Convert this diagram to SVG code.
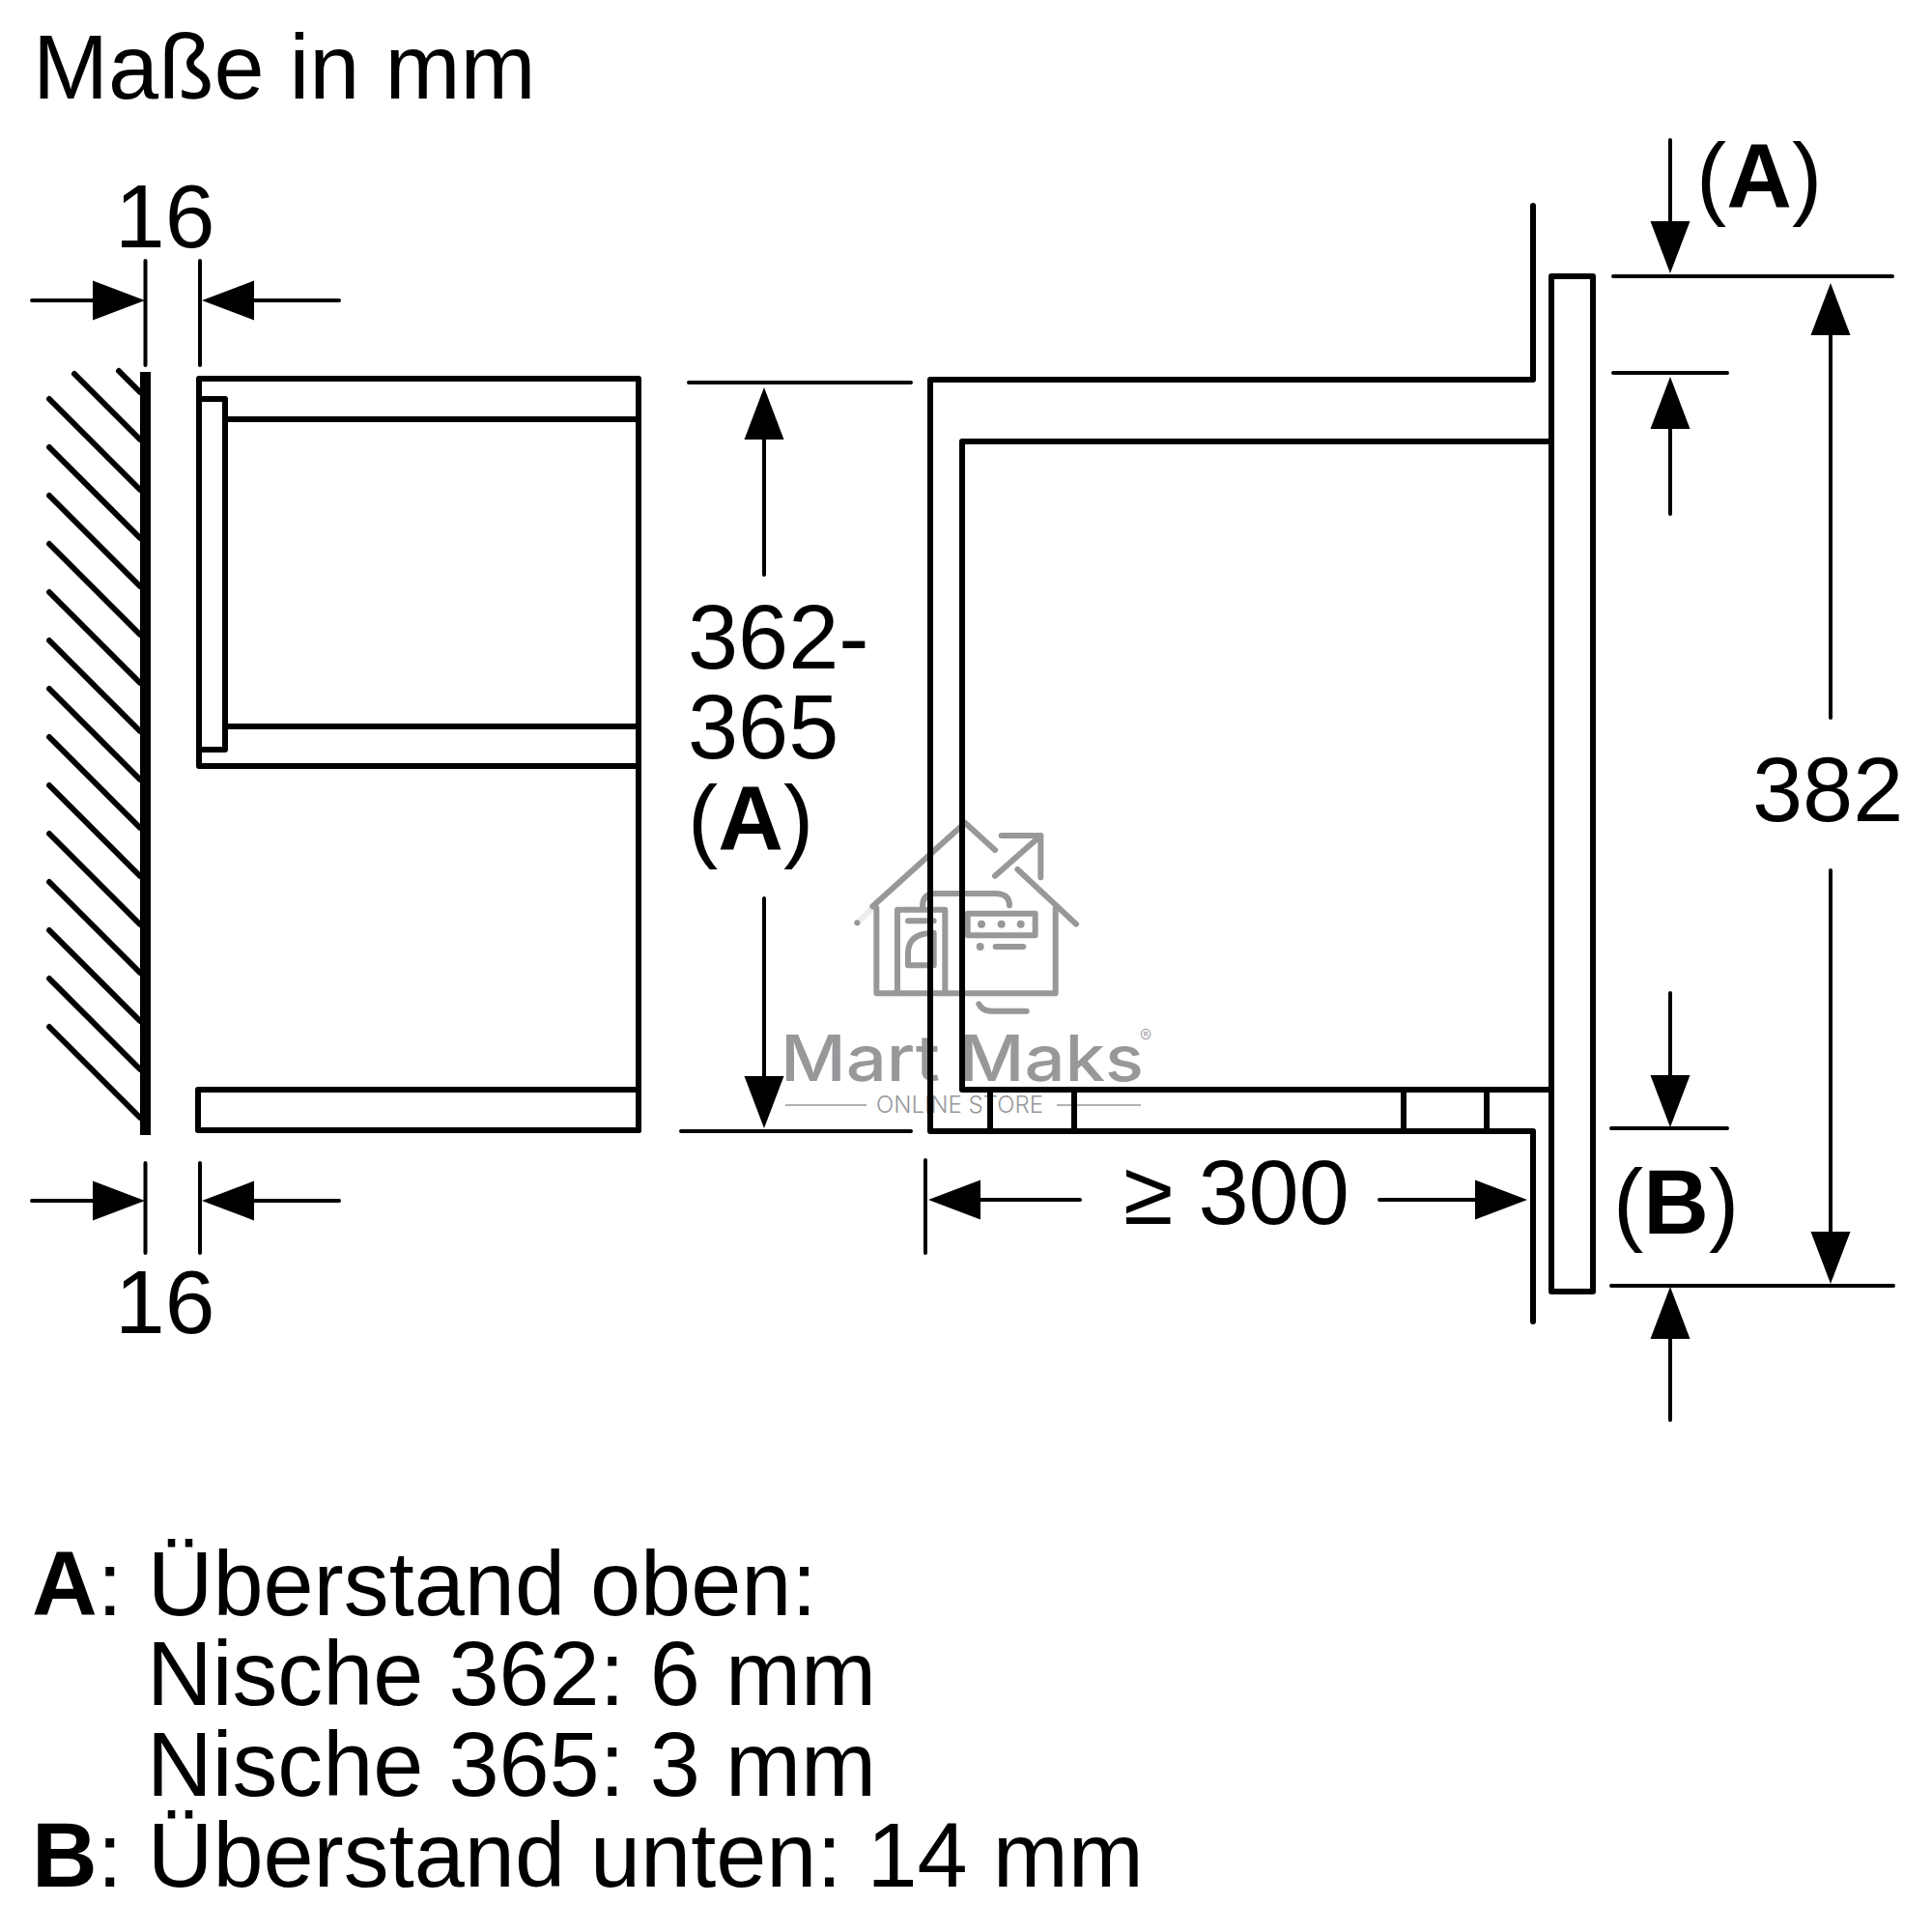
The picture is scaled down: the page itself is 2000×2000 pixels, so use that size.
<svg xmlns="http://www.w3.org/2000/svg" width="2000" height="2000" viewBox="0 0 2000 2000">
<style>
text{font-family:"Liberation Sans",Arial,sans-serif;fill:#000}
.t{font-size:93.7px}
.n{font-size:93px}
.b{font-weight:700}
.l{fill:none;stroke:#000;stroke-width:6;stroke-linecap:round;stroke-linejoin:round}
.d{fill:none;stroke:#000;stroke-width:4;stroke-linecap:round}
.h{fill:#000;stroke:none}
.g{fill:none;stroke:#98989b;stroke-width:18;stroke-linecap:round;stroke-linejoin:round}
.gt{fill:#98989b;font-family:Inter,"Liberation Sans",sans-serif}
</style>
<defs>
<polygon id="ah" class="h" points="0,0 -54,-20.5 -54,20.5"/>
</defs>
<rect width="2000" height="2000" fill="#fff"/>

<g id="logo">
<g transform="translate(800,800) scale(0.33333)">
<path class="g" style="stroke:#eeeeef" d="M262 466L310 420"/>
<path class="g" d="M262 466h.1"/>
<path class="g" d="M310 415L597 155L690 240M760 300L942 470"/>
<path class="g" d="M322 420V685H878V420"/>
<path class="g" d="M387 685V425H535V685"/>
<path class="g" d="M420 460H500M500 497V598H420V560Q420 497 500 497Z"/>
<path class="g" d="M465 415Q465 375 505 375H690Q735 375 735 412"/>
<path class="g" d="M605 437H815V505H605Z"/>
<path class="g" style="stroke-width:24" d="M648 470h.1M710 470h.1M770 470h.1M644 540h.1"/>
<path class="g" d="M692 540H778M640 718Q650 740 680 740H788"/>
<path class="g" d="M690 320L832 195M710 195H832V325"/>
</g>
<text class="gt" x="808" y="1119" font-size="66" font-weight="500" textLength="376" lengthAdjust="spacingAndGlyphs">Mart Maks</text>
<text class="gt" x="1180" y="1079" font-size="18" font-weight="300">®</text>
<text class="gt" x="907" y="1152" font-size="24" font-weight="300" textLength="173" lengthAdjust="spacingAndGlyphs">ONLINE STORE</text>
<path d="M813 1144H897M1094 1144H1181" fill="none" stroke="#98989b" stroke-width="1.6"/>
</g>

<g id="wall">
<rect x="145" y="385" width="11" height="790" fill="#000"/>
<path class="l" d="M123 384L145 406M77 387L145 455M51 413L145 507M51 463L145 557M51 513L145 607M51 563L145 657M51 613L145 707M51 663L145 757M51 713L145 807M51 763L145 857M51 813L145 907M51 863L145 957M51 913L145 1007M51 963L145 1057M51 1013L145 1107M51 1063L145 1157"/>
</g>

<g id="front-view">
<path class="l" d="M206 793V392H661V1170M233 434H661M233 752H661M206 793H661"/>
<rect class="l" x="206" y="413" width="27" height="363"/>
<path class="l" d="M205 1128H661M205 1128V1170H661"/>
</g>

<g id="side-view">
<path class="l" d="M1587 213V393H963V1171H1587V1368"/>
<path class="l" d="M1605 457H996V1128H1605"/>
<path class="l" d="M1025 1128V1171M1112 1128V1171M1453 1128V1171M1539 1128V1171"/>
<rect class="l" x="1606" y="286" width="43" height="1051"/>
</g>

<g id="dimensions">
<path class="d" d="M150.500 270V378M207 270V378M33 311H96M262 311H351"/>
<path class="d" d="M150.500 1204V1297M207 1204V1297M33 1243H96M262 1243H351"/>
<use href="#ah" transform="translate(150,311)"/>
<use href="#ah" transform="translate(209,311) rotate(180)"/>
<use href="#ah" transform="translate(150,1243)"/>
<use href="#ah" transform="translate(209,1243) rotate(180)"/>

<path class="d" d="M713 396H943M705 1171H943M791 455V595M791 930V1115"/>
<use href="#ah" transform="translate(791,401) rotate(-90)"/>
<use href="#ah" transform="translate(791,1168) rotate(90)"/>

<path class="d" d="M958 1201V1297M1013 1242H1118M1428 1242H1527"/>
<use href="#ah" transform="translate(961,1242) rotate(180)"/>
<use href="#ah" transform="translate(1581,1242)"/>

<path class="d" d="M1670 286H1959M1670 386H1788M1668 1168H1788M1668 1331H1960"/>
<path class="d" d="M1729 145V229M1729 444V532M1729 1028V1113M1729 1383V1470"/>
<use href="#ah" transform="translate(1729,283) rotate(90)"/>
<use href="#ah" transform="translate(1729,390) rotate(-90)"/>
<use href="#ah" transform="translate(1729,1167) rotate(90)"/>
<use href="#ah" transform="translate(1729,1332) rotate(-90)"/>

<path class="d" d="M1895 347V743M1895 901V1277"/>
<use href="#ah" transform="translate(1895,293) rotate(-90)"/>
<use href="#ah" transform="translate(1895,1329) rotate(90)"/>
</g>

<g id="labels">
<text class="t" x="34" y="102">Maße in mm</text>
<text class="n" x="119" y="256">16</text>
<text class="n" x="119" y="1380">16</text>
<text class="t" x="712" y="692">362-</text>
<text class="t" x="712" y="785">365</text>
<text class="t" x="712" y="880">(<tspan class="b">A</tspan>)</text>
<text class="t" x="1163" y="1267">≥ 300</text>
<text class="t" x="1814" y="850">382</text>
<text class="t" x="1756" y="215">(<tspan class="b">A</tspan>)</text>
<text class="t" x="1670" y="1277">(<tspan class="b">B</tspan>)</text>
<text class="t" x="33" y="1672"><tspan class="b">A</tspan>: Überstand oben:</text>
<text class="t" x="152" y="1765">Nische 362: 6 mm</text>
<text class="t" x="152" y="1859">Nische 365: 3 mm</text>
<text class="t" x="33" y="1953"><tspan class="b">B</tspan>: Überstand unten: 14 mm</text>
</g>
</svg>
